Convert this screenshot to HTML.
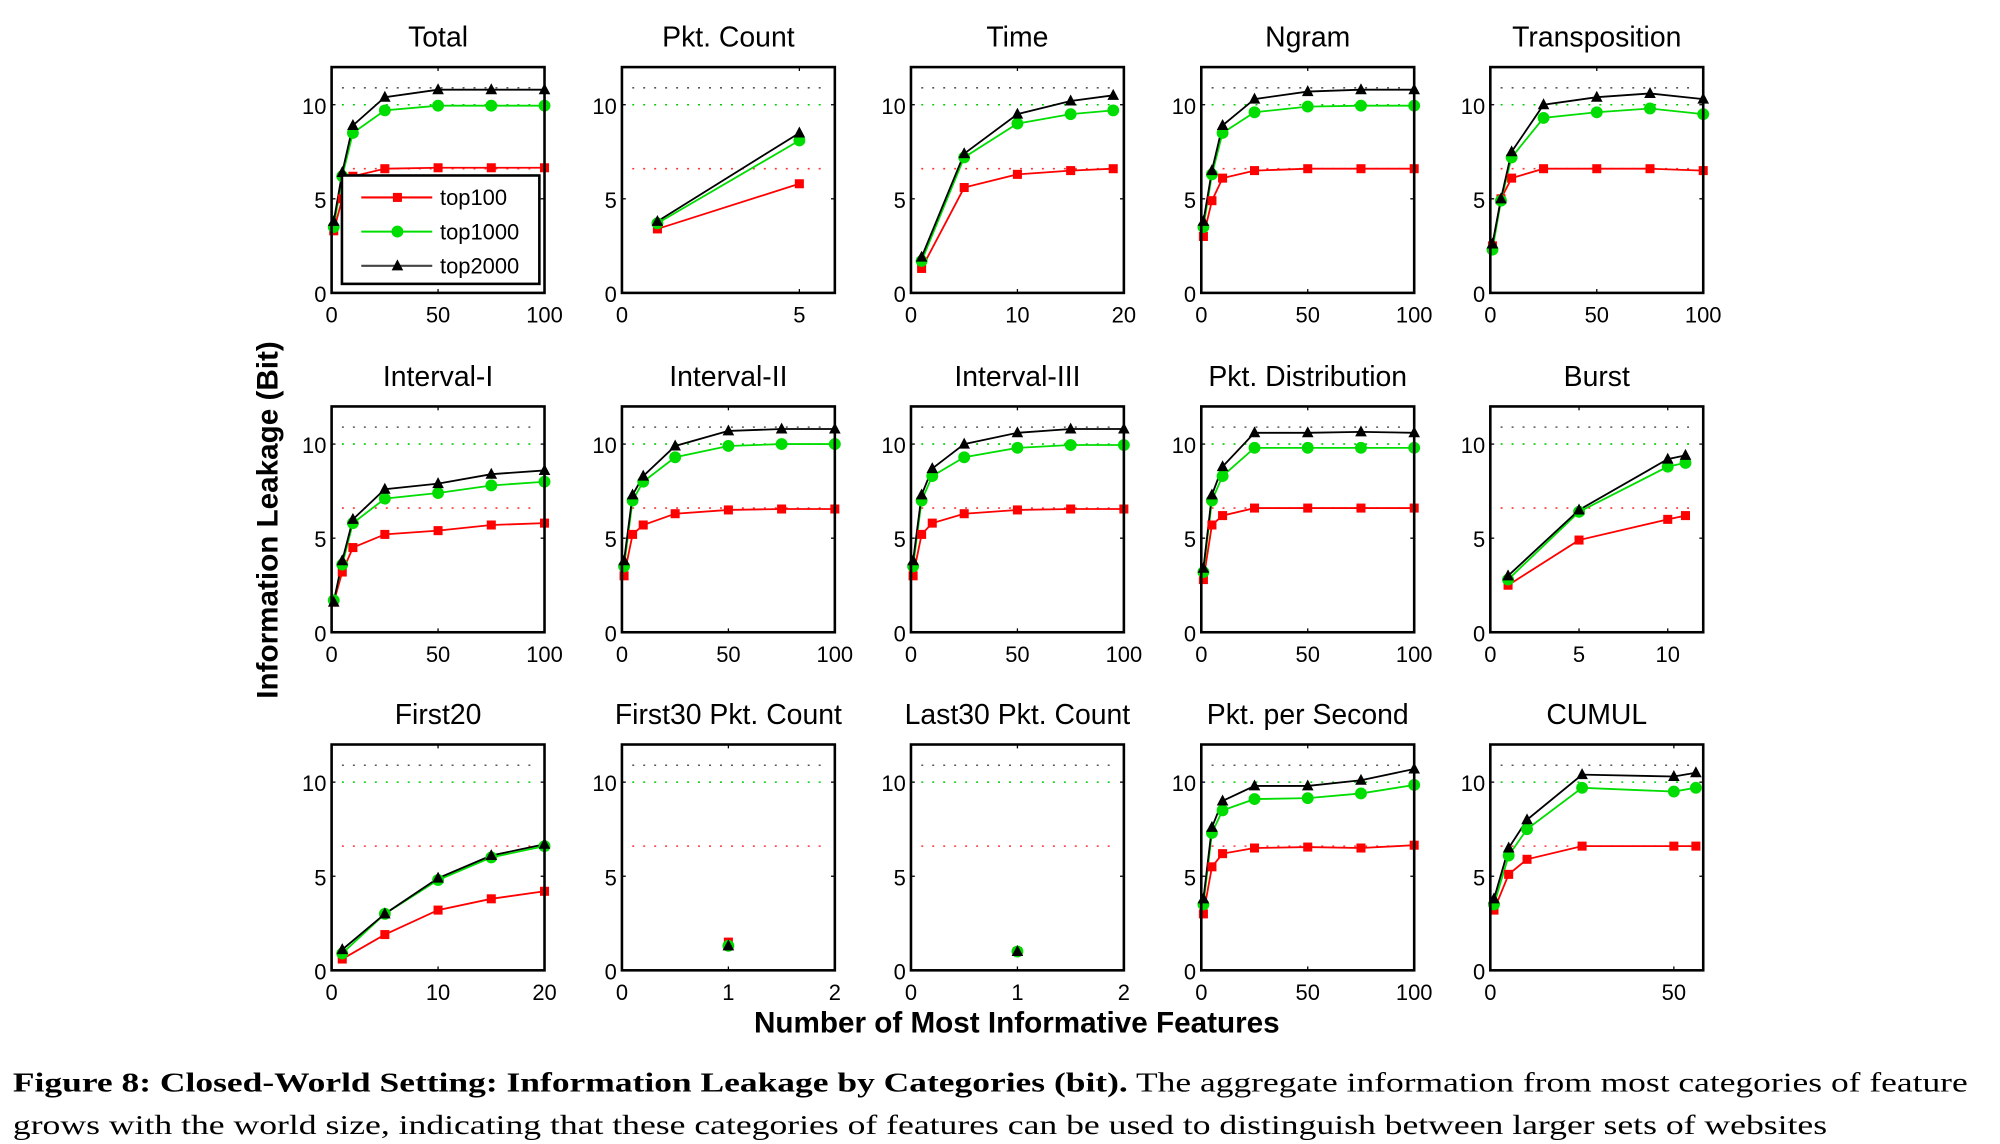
<!DOCTYPE html>
<html><head><meta charset="utf-8">
<style>
html,body{margin:0;padding:0;background:#fff;}
svg{display:block;}
text{font-family:"Liberation Sans",sans-serif;}
</style></head>
<body>
<svg id="fig" width="2000" height="1144" viewBox="0 0 1550 886.6" preserveAspectRatio="none" xmlns="http://www.w3.org/2000/svg">
<text x="0" y="0" transform="translate(215,403) rotate(-90)" text-anchor="middle" font-size="23" font-weight="bold">Information Leakage (Bit)</text>
<text x="788" y="800" text-anchor="middle" font-size="23" font-weight="bold">Number of Most Informative Features</text>
<text x="10" y="846" font-size="21" style="font-family:'Liberation Serif',serif" textLength="1515" lengthAdjust="spacingAndGlyphs"><tspan font-weight="bold">Figure 8: Closed-World Setting: Information Leakage by Categories (bit).</tspan> The aggregate information from most categories of feature</text>
<text x="10" y="879" font-size="21" style="font-family:'Liberation Serif',serif" textLength="1406" lengthAdjust="spacingAndGlyphs">grows with the world size, indicating that these categories of features can be used to distinguish between larger sets of websites</text>
</svg>
<script>
const titles=["Total","Pkt. Count","Time","Ngram","Transposition","Interval-I","Interval-II","Interval-III","Pkt. Distribution","Burst","First20","First30 Pkt. Count","Last30 Pkt. Count","Pkt. per Second","CUMUL"];
const xMax=[100,6,20,100,100,100,100,100,100,12,20,2,2,100,58];
const xTicks=[[0,50,100],[0,5],[0,10,20],[0,50,100],[0,50,100],[0,50,100],[0,50,100],[0,50,100],[0,50,100],[0,5,10],[0,10,20],[0,1,2],[0,1,2],[0,50,100],[0,50]];
const yTicks=[0,5,10];
const refLines=[10.9,10,6.6];
const xs=[[1,5,10,25,50,75,100],[1,5],[1,5,10,15,19],[1,5,10,25,50,75,100],[1,5,10,25,50,75,100],[1,5,10,25,50,75,100],[1,5,10,25,50,75,100],[1,5,10,25,50,75,100],[1,5,10,25,50,75,100],[1,5,10,11],[1,5,10,15,20],[1],[1],[1,5,10,25,50,75,100],[1,5,10,25,50,56]];
const top100=[[3.3,5.0,6.2,6.6,6.65,6.65,6.65],[3.4,5.8],[1.3,5.6,6.3,6.5,6.6],[3.0,4.9,6.1,6.5,6.6,6.6,6.6],[2.5,5.0,6.1,6.6,6.6,6.6,6.5],[1.6,3.2,4.5,5.2,5.4,5.7,5.8],[3.0,5.2,5.7,6.3,6.5,6.55,6.55],[3.0,5.2,5.8,6.3,6.5,6.55,6.55],[2.8,5.7,6.2,6.6,6.6,6.6,6.6],[2.5,4.9,6.0,6.2],[0.6,1.9,3.2,3.8,4.2],[1.5],[1.0],[3.0,5.5,6.2,6.5,6.55,6.5,6.65],[3.2,5.1,5.9,6.6,6.6,6.6]];
const top1000=[[3.5,6.2,8.5,9.7,9.95,9.95,9.95],[3.7,8.1],[1.7,7.2,9.0,9.5,9.7],[3.5,6.3,8.5,9.6,9.9,9.95,9.95],[2.3,4.9,7.2,9.3,9.6,9.8,9.5],[1.7,3.6,5.8,7.1,7.4,7.8,8.0],[3.5,7.0,8.0,9.3,9.9,10.0,10.0],[3.5,7.0,8.3,9.3,9.8,9.95,9.95],[3.2,7.0,8.3,9.8,9.8,9.8,9.8],[2.8,6.4,8.8,9.0],[0.9,3.0,4.8,6.0,6.6],[1.3],[1.0],[3.5,7.3,8.5,9.1,9.15,9.4,9.85],[3.5,6.1,7.5,9.7,9.5,9.7]];
const top2000=[[3.8,6.4,8.9,10.4,10.8,10.8,10.8],[3.8,8.5],[1.9,7.4,9.5,10.2,10.5],[3.8,6.5,8.9,10.3,10.7,10.8,10.8],[2.6,5.0,7.5,10.0,10.4,10.6,10.3],[1.6,3.8,6.0,7.6,7.9,8.4,8.6],[3.8,7.3,8.3,9.9,10.7,10.8,10.8],[3.8,7.3,8.7,10.0,10.6,10.8,10.8],[3.4,7.3,8.8,10.6,10.6,10.65,10.6],[3.0,6.5,9.2,9.4],[1.1,3.0,4.9,6.1,6.7],[1.3],[1.0],[3.8,7.6,9.0,9.8,9.8,10.1,10.7],[3.8,6.5,8.0,10.4,10.3,10.5]];
const seriesNames=["top100","top1000","top2000"];
const colors=["#ff0000","#00dd00","#000000"];
const refColors=["#555","#00cc00","#ff3333"];

const NS="http://www.w3.org/2000/svg";
const svg=document.getElementById('fig');
const colX=[257,482,706,931,1155], rowY=[52,315,577], W=165, H=175, YMAX=12;
function mk(tag,attrs,parent){const e=document.createElementNS(NS,tag);for(const k in attrs)e.setAttribute(k,attrs[k]);(parent||svg).appendChild(e);return e;}
function marker(g,type,x,y){
  let m;
  if(type===0){m=mk('rect',{x:x-3.5,y:y-3.5,width:7,height:7,fill:colors[0]},g);}
  else if(type===1){m=mk('circle',{cx:x,cy:y,r:4.6,fill:colors[1]},g);}
  else {m=mk('polygon',{points:`${x},${y-5} ${x-4.5},${y+3.5} ${x+4.5},${y+3.5}`,fill:colors[2]},g);}
  
  
}
titles.forEach((t,i)=>{
  const x0=colX[i%5], y0=rowY[Math.floor(i/5)];
  const sx=v=>x0+v/xMax[i]*W, sy=v=>y0+H-v/YMAX*H;
  const g=mk('g',{});
  
  
  const tt=mk('text',{x:x0+W/2,y:y0-16,'text-anchor':'middle','font-size':'22'},g);tt.textContent=t;
  
  
  refLines.forEach((r,k)=>{const l=mk('line',{x1:x0+8,x2:x0+W-4,y1:sy(r),y2:sy(r),stroke:refColors[k],'stroke-width':1.2,'stroke-dasharray':'1.5 7'},g);
    
    });
  yTicks.forEach(v=>{const tx=mk('text',{x:x0-4,y:sy(v)+7,'text-anchor':'end','font-size':'17'},g);tx.textContent=v;
    
    
    mk('line',{x1:x0,x2:x0+3,y1:sy(v),y2:sy(v),stroke:'#000'},g);mk('line',{x1:x0+W,x2:x0+W-3,y1:sy(v),y2:sy(v),stroke:'#000'},g);});
  xTicks[i].forEach(v=>{const tx=mk('text',{x:sx(v),y:y0+H+23,'text-anchor':'middle','font-size':'17'},g);tx.textContent=v;
    
    
    mk('line',{x1:sx(v),x2:sx(v),y1:y0+H,y2:y0+H-3,stroke:'#000'},g);mk('line',{x1:sx(v),x2:sx(v),y1:y0,y2:y0+3,stroke:'#000'},g);});
  [top100,top1000,top2000].forEach((arr,s)=>{
    const pts=xs[i].map((xv,j)=>sx(xv)+','+sy(arr[i][j])).join(' ');
    const pl=mk('polyline',{points:pts,fill:'none',stroke:colors[s],'stroke-width':1.4},g);
    
    
  });
  [top100,top1000,top2000].forEach((arr,s)=>{xs[i].forEach((xv,j)=>marker(g,s,sx(xv),sy(arr[i][j])));});
  const b=mk('rect',{x:x0,y:y0,width:W,height:H,fill:'none',stroke:'#000','stroke-width':2},g);
  
  
  if(i===0){
    const lg=mk('g',{},g);
    
    
    mk('rect',{x:265,y:136,width:153,height:84,fill:'#fff',stroke:'#000','stroke-width':2},lg);
    seriesNames.forEach((n,s)=>{const yy=153+s*26.5;
      const e=mk('g',{},lg);
      
      
      mk('line',{x1:280,x2:335,y1:yy,y2:yy,stroke:s===2?'#444':colors[s],'stroke-width':1.6},e);
      marker(e,s,308,yy);
      const tx=mk('text',{x:341,y:yy+6,'font-size':'17'},e);tx.textContent=n;});
  }
});
</script>
</body></html>
